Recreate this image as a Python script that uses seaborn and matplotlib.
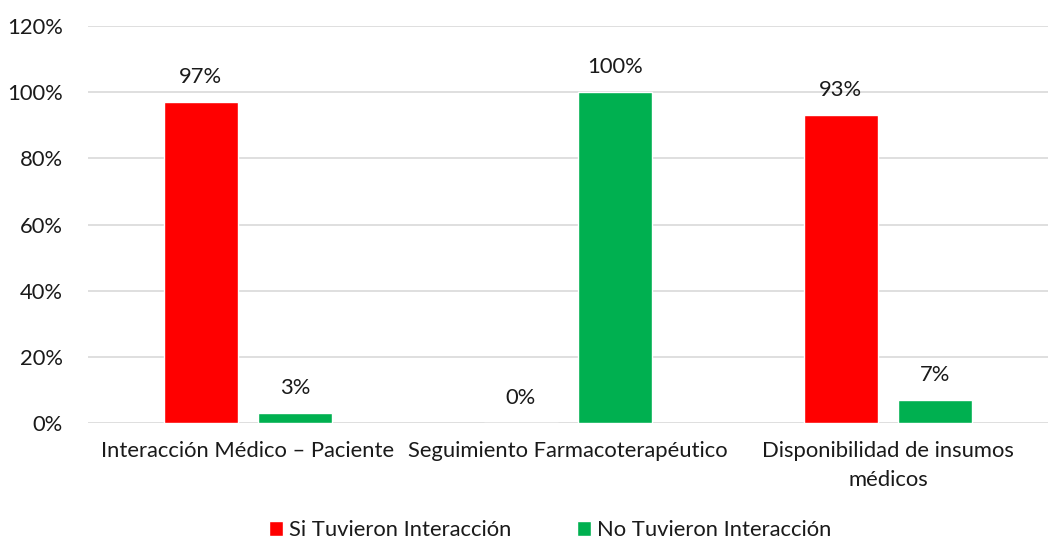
import pandas as pd
import seaborn as sns
import matplotlib.pyplot as plt
from matplotlib.ticker import PercentFormatter

categories = ["Interacción Médico – Paciente", "Seguimiento Farmacoterapéutico",
              "Disponibilidad de insumos\nmédicos"]
series = ["Si Tuvieron Interacción", "No Tuvieron Interacción"]
si_values = [97, 0, 93]
no_values = [3, 100, 7]
colors = ["#FF0000", "#00B050"]

df = pd.DataFrame({
    "categoria": categories * 2,
    "grupo": [series[0]] * 3 + [series[1]] * 3,
    "valor": si_values + no_values,
})

sns.set_theme(style="white")
plt.rcParams["font.family"] = ["Lato", "DejaVu Sans"]
text_color = "#1a1a1a"
fs = 15.8

fig = plt.figure(figsize=(10.56, 5.44), dpi=100)
ax = fig.add_axes([0.0833, 0.2224, 0.9091, 0.7296])

sns.barplot(data=df, x="categoria", y="valor", hue="grupo", palette=colors,
            width=0.59, gap=0.22, saturation=1, ax=ax, legend=True)

for cont in ax.containers:
    ax.bar_label(cont, labels=[f"{v:.0f}%" for v in cont.datavalues],
                 padding=11, fontsize=fs, color=text_color)

ax.set_ylim(0, 120)
ax.set_yticks(range(0, 121, 20))
ax.yaxis.set_major_formatter(PercentFormatter(decimals=0))
ax.grid(axis="y", color="#D9D9D9", linewidth=1.2)
ax.set_axisbelow(True)
for s in ["top", "right", "left", "bottom"]:
    ax.spines[s].set_visible(False)
ax.set_xlabel("")
ax.set_ylabel("")
ax.tick_params(axis="both", length=0, labelsize=fs, labelcolor=text_color)
ax.tick_params(axis="x", pad=13)
ax.tick_params(axis="y", pad=18)
for lbl in ax.get_xticklabels():
    lbl.set_linespacing(1.55)

handles, labels = ax.get_legend_handles_labels()
ax.get_legend().remove()
fig.legend(handles, labels, loc="center", bbox_to_anchor=(550 / 1056, 1 - 530 / 544),
           ncol=2, frameon=False, fontsize=fs, handlelength=0.65, handleheight=0.65,
           handletextpad=0.25, columnspacing=3.0, labelcolor=text_color)

fig.savefig("out.png", dpi=100)
